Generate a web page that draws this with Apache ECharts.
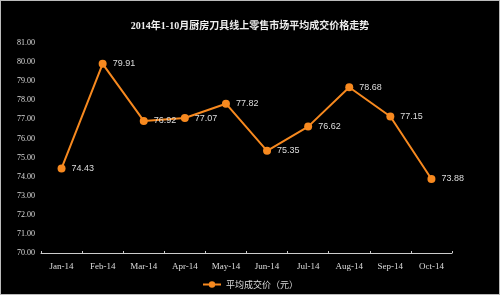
<!DOCTYPE html>
<html><head><meta charset="utf-8">
<script src="https://cdn.jsdelivr.net/npm/echarts@6/dist/echarts.min.js"></script>
<style>html,body{margin:0;padding:0;background:#fff;}#c{width:498px;height:293px;border:1px solid #bbb;background:#000;}</style>
</head><body><div id="c"></div>
<script>
const categories = ['Jan-14','Feb-14','Mar-14','Apr-14','May-14','Jun-14','Jul-14','Aug-14','Sep-14','Oct-14'];
const values = [74.43,79.91,76.92,77.07,77.82,75.35,76.62,78.68,77.15,73.88];
const seriesName = '平均成交价（元）';
const title = '2014年1-10月厨房刀具线上零售市场平均成交价格走势';
const chart = echarts.init(document.getElementById('c'));
chart.setOption({
  backgroundColor:'#000',
  animation:false,
  title:{text:title,left:'center',top:15,textStyle:{color:'#eee',fontSize:10,fontWeight:'bold',fontFamily:'Liberation Serif, Noto Sans CJK SC'}},
  grid:{left:40,right:47,top:42,bottom:41},
  legend:{bottom:0,left:'center',itemWidth:18,itemHeight:8,textStyle:{color:'#ddd',fontSize:9,fontFamily:'Noto Sans CJK SC'},data:[seriesName]},
  xAxis:{type:'category',data:categories,boundaryGap:true,
    axisLine:{lineStyle:{color:'#ccc',width:1}},
    axisTick:{show:true,inside:true,length:2,lineStyle:{color:'#ccc'}},
    axisLabel:{color:'#ddd',fontSize:9,fontFamily:'Liberation Serif',margin:9}},
  yAxis:{type:'value',min:70,max:81,interval:1,
    axisLine:{show:false},axisTick:{show:false},splitLine:{show:false},
    axisLabel:{color:'#ddd',fontSize:8,fontFamily:'Liberation Serif',formatter:v=>v.toFixed(2),margin:6}},
  series:[{name:seriesName,type:'line',data:values,color:'#f7891f',
    lineStyle:{width:2},symbol:'circle',symbolSize:8,
    label:{show:true,position:'right',distance:6,color:'#ddd',fontSize:9,fontFamily:'Liberation Sans',formatter:p=>p.value.toFixed(2)}}]
});
</script></body></html>
